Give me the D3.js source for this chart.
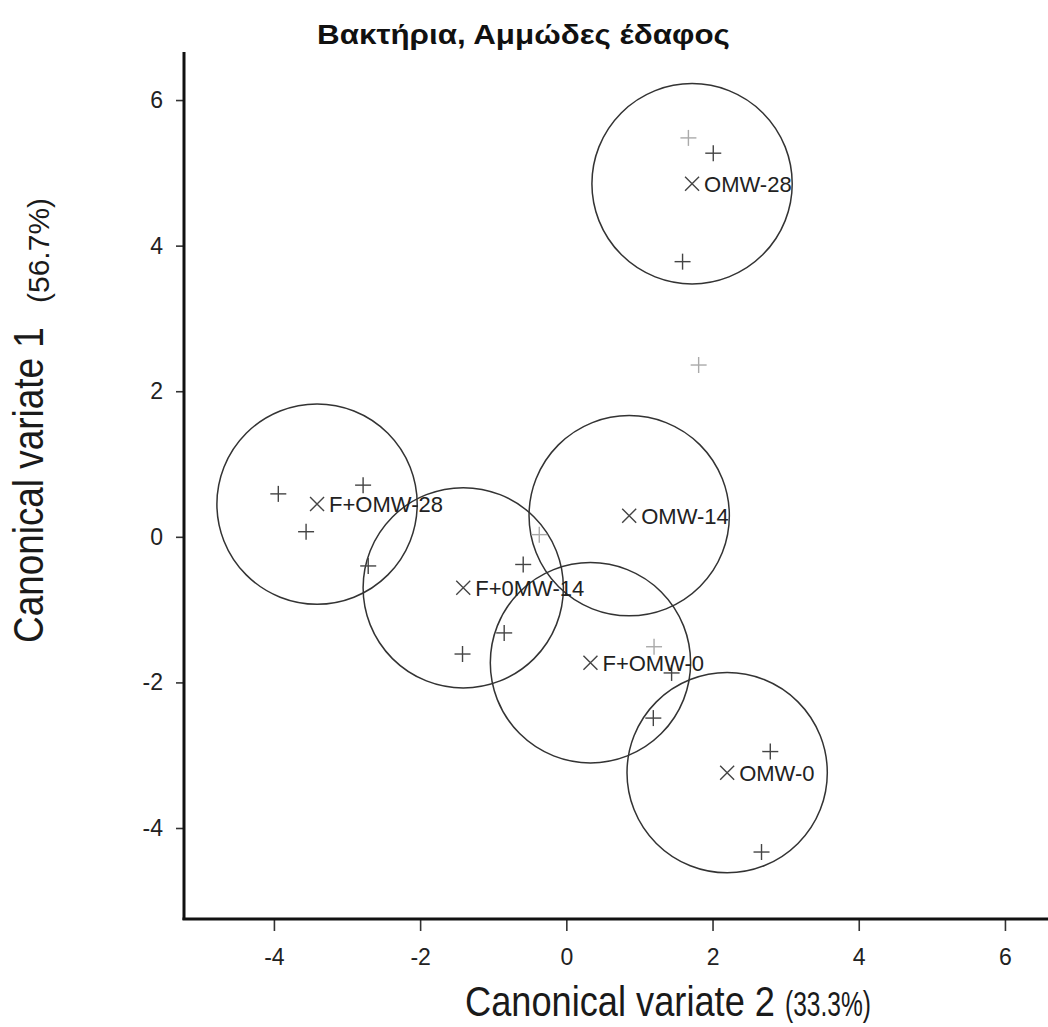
<!DOCTYPE html>
<html>
<head>
<meta charset="utf-8">
<script src="https://cdn.jsdelivr.net/npm/d3@7"></script>
<style>
body { margin: 0; background: #fff; }
text { font-family: "Liberation Sans", Arial, sans-serif; }
</style>
</head>
<body>
<svg id="chart" width="1048" height="1027"></svg>
<script>
// group means (canonical variate 2 = x, canonical variate 1 = y)
var groups = ["OMW-28", "OMW-14", "F+OMW-28", "F+0MW-14", "F+OMW-0", "OMW-0"]
var groupCV2 = [1.72, 0.86, -3.41, -1.41, 0.33, 2.20]
var groupCV1 = [4.85, 0.29, 0.45, -0.70, -1.73, -3.24]
var circleRadius = 1.37

// single observations
var obsCV2 = [1.67, 2.01, 1.59, 1.81, -3.94, -2.78, -3.56, -2.71, -0.37, -0.59, -0.85, -1.42, 1.20, 1.44, 1.19, 2.79, 2.67]
var obsCV1 = [5.48, 5.27, 3.78, 2.36, 0.59, 0.71, 0.07, -0.40, 0.03, -0.38, -1.32, -1.61, -1.51, -1.87, -2.49, -2.95, -4.33]

var xTicks = [-4, -2, 0, 2, 4, 6]
var yTicks = [-4, -2, 0, 2, 4, 6]

var title = "Βακτήρια, Αμμώδες έδαφος"
var xTitle = "Canonical variate 2"
var xPct = "(33.3%)"
var yTitle = "Canonical variate 1"
var yPct = "(56.7%)"

var svg = d3.select("#chart")
var faint = [0, 3, 8, 12]

var x = d3.scaleLinear().domain([-5.23, 6.63]).range([184, 1051])
var y = d3.scaleLinear().domain([-5.25, 6.66]).range([919, 52])

// squeeze a text horizontally so it spans w pixels (the scan uses a narrow face)
function narrow(g, txt, size, w, weight)
{
    var t = g.append("text").attr("font-size", size).attr("fill", "#1a1a1a").text(txt)
    if(weight) t.attr("font-weight", weight)
    var len = t.node().getComputedTextLength()
    t.attr("transform", "scale(" + (w / len) + ",1)")
    return t
}

// title
var tg = svg.append("g").attr("transform", "translate(317,44)")
narrow(tg, title, 28, 413, "bold").attr("fill", "#111")

// axes
svg.append("g")
    .attr("transform", "translate(0,919)")
    .call(d3.axisBottom(x).tickValues(xTicks).tickSize(12).tickPadding(18).tickFormat(function(d){return String(d)}))
svg.append("g")
    .attr("transform", "translate(184,0)")
    .call(d3.axisLeft(y).tickValues(yTicks).tickSize(8).tickPadding(13).tickFormat(function(d){return String(d)}))

svg.selectAll(".domain").remove()
svg.selectAll(".tick line").attr("stroke", "#333").attr("stroke-width", 1.6)
svg.selectAll(".tick text").attr("font-size", 23).attr("fill", "#222").attr("font-family", "Liberation Sans, Arial, sans-serif")

svg.append("line").attr("x1", 184).attr("x2", 184).attr("y1", 52).attr("y2", 920)
    .attr("stroke", "#111").attr("stroke-width", 3)
svg.append("line").attr("x1", 182.5).attr("x2", 1048).attr("y1", 919).attr("y2", 919)
    .attr("stroke", "#111").attr("stroke-width", 3)

// axis titles
narrow(svg.append("g").attr("transform", "translate(465,1016)"), xTitle, 43, 310)
narrow(svg.append("g").attr("transform", "translate(785,1016)"), xPct, 35, 86)

var yt = svg.append("g").attr("transform", "translate(43,643) rotate(-90)")
narrow(yt, yTitle, 42, 316)
yt.append("text").attr("x", 340).attr("y", 6)
    .attr("font-size", 30).attr("fill", "#1a1a1a")
    .text(yPct)

// confidence circles
var r = x(circleRadius) - x(0)
svg.selectAll("circle.grp")
    .data(groups)
    .enter().append("circle")
    .attr("class", "grp")
    .attr("cx", function(d, i){return x(groupCV2[i])})
    .attr("cy", function(d, i){return y(groupCV1[i])})
    .attr("r", r)
    .attr("fill", "none")
    .attr("stroke", "#333")
    .attr("stroke-width", 1.5)

// observations as +
var plus = svg.selectAll("g.obs")
    .data(obsCV2)
    .enter().append("g")
    .attr("class", "obs")
    .attr("transform", function(d, i){return "translate(" + x(d) + "," + y(obsCV1[i]) + ")"})
    .attr("stroke", function(d, i){return faint.includes(i) ? "#aaa" : "#444"})
    .attr("stroke-width", 1.4)
plus.append("line").attr("x1", -8).attr("x2", 8).attr("y1", 0).attr("y2", 0)
plus.append("line").attr("x1", 0).attr("x2", 0).attr("y1", -8).attr("y2", 8)

// group means as x with label
var mean = svg.selectAll("g.mean")
    .data(groups)
    .enter().append("g")
    .attr("class", "mean")
    .attr("transform", function(d, i){return "translate(" + x(groupCV2[i]) + "," + y(groupCV1[i]) + ")"})
mean.append("path")
    .attr("d", "M-7,-7L7,7M-7,7L7,-7")
    .attr("stroke", "#444").attr("stroke-width", 1.4)
mean.append("text")
    .attr("x", 12).attr("y", 0).attr("dy", "0.36em")
    .attr("font-size", 22).attr("fill", "#222")
    .text(function(d){return d})
</script>
</body>
</html>
